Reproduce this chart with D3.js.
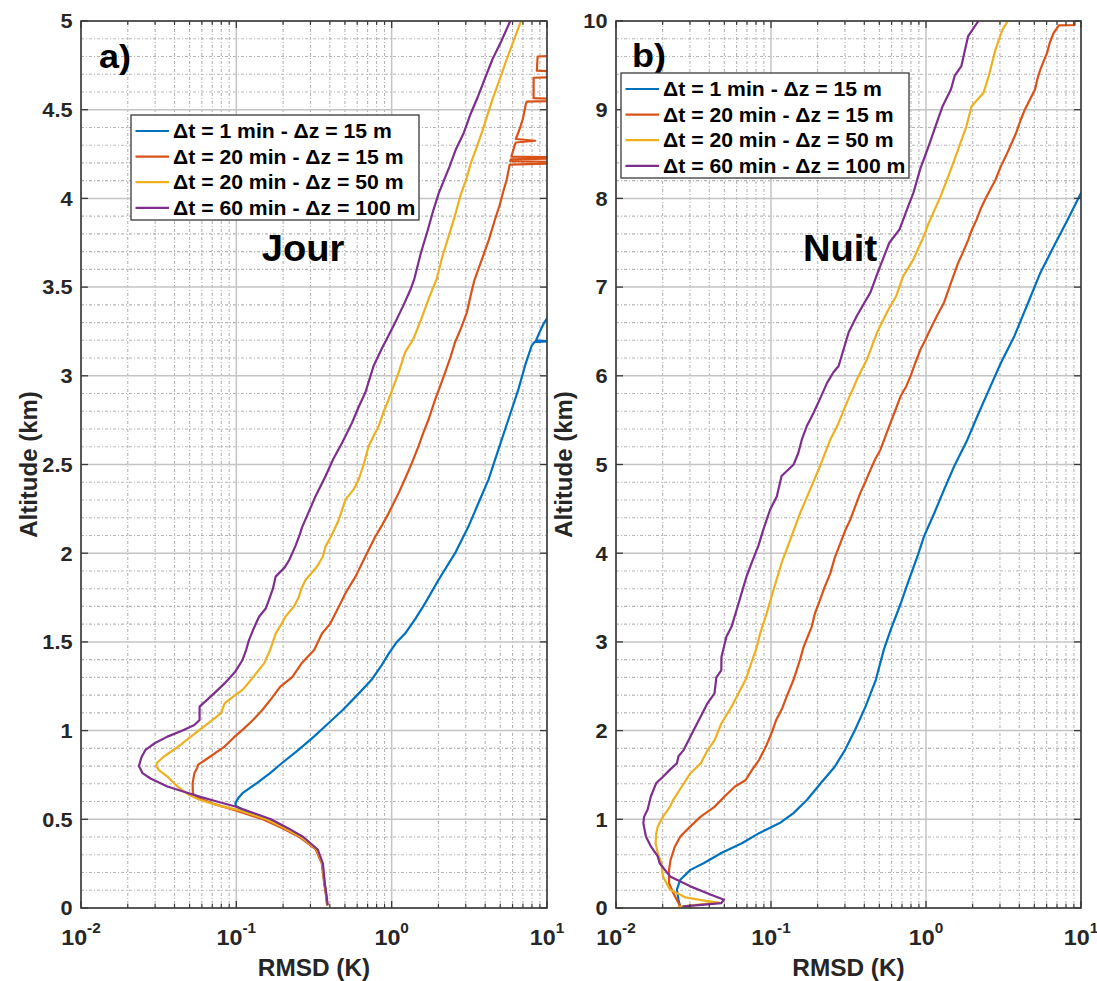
<!DOCTYPE html>
<html>
<head>
<meta charset="utf-8">
<script src="https://cdn.jsdelivr.net/npm/d3@7"></script>
<style>
  body { margin: 0; background: #fff; }
  text { font-family: "Liberation Sans", Arial, sans-serif; font-weight: bold; }
</style>
</head>
<body>
<svg id="chart" width="1097" height="981"></svg>
<script>
// ---------------- DATA ----------------
const seriesLabels = [
  "Δt = 1 min - Δz = 15 m",
  "Δt = 20 min - Δz = 15 m",
  "Δt = 20 min - Δz = 50 m",
  "Δt = 60 min - Δz = 100 m"
];
const seriesColors = ["#0072BD", "#D95319", "#EDB120", "#7E2F8E"];

const xTickExponents = [-2, -1, 0, 1];
const jourYTicks = [0, 0.5, 1, 1.5, 2, 2.5, 3, 3.5, 4, 4.5, 5];
const nuitYTicks = [0, 1, 2, 3, 4, 5, 6, 7, 8, 9, 10];
const panelTags = ["a)", "b)"];
const panelTitles = ["Jour", "Nuit"];
const xAxisTitle = "RMSD (K)";
const yAxisTitle = "Altitude (km)";

// [altitude km, RMSD K]
const jour_dt1_dz15 = [[0.015,0.385],[0.07,0.379],[0.14,0.369],[0.25,0.357],[0.33,0.33],[0.40,0.265],[0.45,0.208],[0.50,0.158],[0.55,0.112],[0.575,0.0995],[0.59,0.0986],[0.62,0.103],[0.647,0.1096],[0.704,0.1355],[0.76,0.165],[0.816,0.196],[0.89,0.25],[0.966,0.316],[1.04,0.39],[1.116,0.484],[1.2,0.6],[1.285,0.74],[1.36,0.85],[1.434,0.957],[1.50,1.08],[1.547,1.22],[1.63,1.42],[1.717,1.64],[1.849,2.0],[2.0,2.56],[2.15,3.12],[2.283,3.62],[2.415,4.2],[2.585,4.87],[2.755,5.65],[2.925,6.55],[3.057,7.22],[3.17,7.97],[3.19,8.3],[3.195,10.5],[3.20,8.5],[3.25,9.0],[3.30,9.6],[3.34,10.3]];
const jour_dt20_dz15 = [[0.015,0.384],[0.07,0.378],[0.14,0.368],[0.25,0.355],[0.33,0.325],[0.40,0.255],[0.45,0.198],[0.50,0.148],[0.55,0.099],[0.59,0.07],[0.62,0.057],[0.645,0.0525],[0.704,0.0523],[0.76,0.0537],[0.79,0.056],[0.807,0.0566],[0.83,0.062],[0.854,0.068],[0.88,0.075],[0.91,0.084],[0.96,0.096],[1.004,0.1096],[1.06,0.128],[1.116,0.147],[1.18,0.168],[1.248,0.192],[1.302,0.229],[1.379,0.263],[1.454,0.317],[1.547,0.356],[1.60,0.40],[1.66,0.434],[1.72,0.47],[1.774,0.504],[1.868,0.585],[1.981,0.677],[2.094,0.785],[2.16,0.87],[2.226,0.957],[2.34,1.11],[2.42,1.22],[2.509,1.35],[2.604,1.49],[2.68,1.60],[2.755,1.73],[2.868,1.91],[2.94,2.05],[3.019,2.21],[3.10,2.38],[3.189,2.56],[3.27,2.80],[3.358,3.05],[3.45,3.22],[3.54,3.41],[3.653,3.8],[3.766,4.22],[3.898,4.69],[3.96,4.95],[4.03,5.2],[4.105,5.5],[4.19,5.75],[4.198,12],[4.205,12],[4.21,5.8],[4.22,5.85],[4.225,12],[4.232,12],[4.236,5.9],[4.30,6.2],[4.315,6.3],[4.325,8.4],[4.335,6.3],[4.38,6.6],[4.45,7.0],[4.53,7.3],[4.545,7.4],[4.55,12],[4.56,12],[4.565,8.2],[4.68,8.2],[4.685,12],[4.715,12],[4.72,8.6],[4.80,8.7],[4.805,12]];
const jour_dt20_dz50 = [[0.015,0.386],[0.07,0.38],[0.14,0.37],[0.25,0.358],[0.33,0.33],[0.40,0.262],[0.45,0.205],[0.50,0.156],[0.55,0.105],[0.58,0.075],[0.61,0.058],[0.64,0.049],[0.666,0.0446],[0.70,0.040],[0.741,0.036],[0.779,0.0316],[0.80,0.0305],[0.82,0.031],[0.854,0.0342],[0.91,0.0423],[0.96,0.05],[1.004,0.058],[1.051,0.068],[1.098,0.0798],[1.154,0.084],[1.19,0.095],[1.229,0.1096],[1.30,0.128],[1.379,0.151],[1.454,0.165],[1.50,0.172],[1.547,0.179],[1.60,0.195],[1.642,0.207],[1.70,0.235],[1.755,0.253],[1.80,0.262],[1.849,0.279],[1.925,0.331],[1.98,0.36],[2.038,0.375],[2.10,0.41],[2.189,0.457],[2.302,0.504],[2.36,0.57],[2.415,0.613],[2.50,0.66],[2.604,0.711],[2.717,0.825],[2.80,0.89],[2.868,0.957],[3.019,1.11],[3.132,1.22],[3.208,1.38],[3.32,1.55],[3.434,1.73],[3.547,1.95],[3.672,2.12],[3.804,2.36],[3.90,2.55],[4.011,2.76],[4.10,3.0],[4.2,3.24],[4.28,3.5],[4.369,3.8],[4.46,4.1],[4.557,4.45],[4.67,4.95],[4.783,5.5],[4.89,6.1],[5.0,6.8],[5.05,7.2]];
const jour_dt60_dz100 = [[0.015,0.388],[0.02,0.387],[0.07,0.381],[0.14,0.371],[0.25,0.361],[0.33,0.334],[0.40,0.27],[0.45,0.215],[0.50,0.167],[0.54,0.125],[0.572,0.0986],[0.60,0.075],[0.628,0.058],[0.655,0.046],[0.685,0.036],[0.73,0.028],[0.76,0.0249],[0.80,0.0236],[0.85,0.0245],[0.891,0.026],[0.93,0.03],[0.966,0.036],[1.00,0.045],[1.032,0.0537],[1.06,0.058],[1.10,0.058],[1.135,0.058],[1.20,0.07],[1.266,0.084],[1.33,0.098],[1.398,0.1096],[1.454,0.1156],[1.51,0.1206],[1.58,0.13],[1.642,0.14],[1.69,0.155],[1.736,0.162],[1.80,0.172],[1.868,0.179],[1.92,0.205],[1.962,0.219],[2.04,0.24],[2.10,0.255],[2.15,0.266],[2.24,0.295],[2.32,0.323],[2.434,0.375],[2.53,0.42],[2.623,0.48],[2.736,0.556],[2.82,0.61],[2.906,0.677],[3.057,0.766],[3.15,0.86],[3.283,1.03],[3.39,1.18],[3.485,1.32],[3.547,1.40],[3.691,1.54],[3.823,1.71],[3.93,1.85],[4.03,2.01],[4.181,2.36],[4.28,2.6],[4.369,2.91],[4.47,3.2],[4.576,3.6],[4.68,4.0],[4.783,4.45],[4.89,5.1],[5.0,5.8],[5.05,6.2]];

const nuit_dt1_dz15 = [[0.01,0.026],[0.094,0.0253],[0.206,0.0247],[0.319,0.026],[0.43,0.0302],[0.507,0.037],[0.62,0.0478],[0.73,0.0649],[0.844,0.0838],[0.957,0.1138],[1.07,0.1396],[1.22,0.171],[1.41,0.21],[1.59,0.257],[1.78,0.30],[2.01,0.349],[2.27,0.407],[2.57,0.474],[2.91,0.534],[3.13,0.59],[3.43,0.686],[3.70,0.776],[3.96,0.879],[4.19,0.971],[4.45,1.13],[4.72,1.31],[4.98,1.52],[5.28,1.85],[5.55,2.15],[5.81,2.5],[6.15,3.05],[6.45,3.72],[6.72,4.31],[6.9,4.75],[7.16,5.46],[7.46,6.68],[7.76,8.2],[8.06,10.0],[8.12,10.5]];
const nuit_dt20_dz15 = [[0.01,0.026],[0.056,0.0253],[0.169,0.0234],[0.28,0.022],[0.43,0.022],[0.544,0.0225],[0.694,0.024],[0.807,0.026],[0.92,0.0302],[1.03,0.0352],[1.14,0.0432],[1.26,0.0503],[1.37,0.0586],[1.44,0.0684],[1.56,0.0757],[1.67,0.0838],[1.82,0.0927],[2.01,0.1028],[2.12,0.108],[2.25,0.118],[2.38,0.126],[2.57,0.1396],[2.8,0.154],[2.94,0.162],[3.17,0.183],[3.32,0.192],[3.47,0.207],[3.62,0.222],[3.77,0.241],[3.95,0.258],[4.11,0.28],[4.25,0.30],[4.38,0.325],[4.53,0.350],[4.68,0.377],[4.80,0.405],[4.94,0.438],[5.06,0.470],[5.17,0.509],[5.32,0.548],[5.47,0.59],[5.62,0.637],[5.77,0.686],[5.88,0.745],[6.0,0.796],[6.15,0.855],[6.3,0.923],[6.42,1.0],[6.53,1.07],[6.68,1.18],[6.83,1.31],[7.05,1.45],[7.27,1.61],[7.40,1.74],[7.53,1.87],[7.65,1.98],[7.76,2.12],[7.88,2.25],[7.99,2.41],[8.10,2.60],[8.21,2.81],[8.35,3.02],[8.48,3.28],[8.60,3.52],[8.74,3.82],[8.87,4.05],[9.0,4.34],[9.12,4.70],[9.23,5.06],[9.34,5.22],[9.45,5.46],[9.55,5.75],[9.64,6.04],[9.76,6.30],[9.87,6.68],[9.95,7.2],[9.955,9.1],[10.1,9.1]];
const nuit_dt20_dz50 = [[0.01,0.025],[0.02,0.027],[0.04,0.035],[0.06,0.046],[0.08,0.038],[0.12,0.028],[0.206,0.0223],[0.356,0.0201],[0.507,0.0196],[0.62,0.0186],[0.73,0.018],[0.844,0.0182],[0.92,0.0186],[1.03,0.0201],[1.14,0.0223],[1.22,0.0234],[1.37,0.0266],[1.52,0.0302],[1.63,0.0352],[1.78,0.039],[1.89,0.0432],[2.08,0.0478],[2.27,0.0557],[2.42,0.0617],[2.57,0.0684],[2.68,0.072],[2.83,0.0769],[2.91,0.080],[3.09,0.085],[3.32,0.0937],[3.58,0.1035],[3.89,0.117],[4.15,0.133],[4.45,0.154],[4.72,0.179],[4.98,0.207],[5.28,0.241],[5.43,0.267],[5.7,0.309],[5.96,0.359],[6.19,0.417],[6.49,0.484],[6.72,0.561],[6.9,0.643],[7.12,0.711],[7.31,0.828],[7.57,0.966],[7.72,1.04],[8.02,1.24],[8.33,1.45],[8.55,1.61],[8.81,1.82],[9.04,1.97],[9.19,2.35],[9.38,2.54],[9.68,2.81],[9.9,3.11],[10.0,3.37]];
const nuit_dt60_dz100 = [[0.01,0.027],[0.019,0.0273],[0.0375,0.037],[0.056,0.0478],[0.094,0.0498],[0.15,0.041],[0.244,0.0302],[0.356,0.0223],[0.507,0.0191],[0.582,0.0186],[0.694,0.0168],[0.807,0.0156],[0.957,0.015],[1.03,0.0152],[1.11,0.016],[1.26,0.0168],[1.41,0.0182],[1.48,0.0201],[1.56,0.0223],[1.63,0.0247],[1.71,0.0253],[1.78,0.0273],[1.89,0.0294],[2.01,0.0318],[2.16,0.0352],[2.31,0.039],[2.42,0.0432],[2.6,0.0444],[2.68,0.0478],[2.83,0.0479],[3.06,0.0516],[3.17,0.0556],[3.36,0.06],[3.55,0.0646],[3.74,0.0696],[3.89,0.075],[4.08,0.0828],[4.26,0.089],[4.49,0.0986],[4.64,0.109],[4.87,0.117],[5.0,0.14],[5.13,0.15],[5.28,0.158],[5.43,0.17],[5.58,0.188],[5.74,0.207],[5.92,0.23],[6.04,0.253],[6.11,0.273],[6.3,0.294],[6.49,0.317],[6.68,0.359],[6.94,0.438],[7.2,0.497],[7.5,0.58],[7.65,0.675],[7.91,0.767],[8.06,0.828],[8.33,0.917],[8.59,1.04],[8.81,1.15],[9.04,1.28],[9.23,1.45],[9.38,1.53],[9.49,1.69],[9.83,1.87],[10.0,2.18]];

// ---------------- LAYOUT ----------------
const svg = d3.select("#chart");
const TEXT_SX = 1.06;   // glyphs in the reference are slightly wide

function stretchedText(g, x, y, str, size, anchor, fill) {
  return g.append("text")
    .attr("transform", `translate(${x},${y}) scale(${TEXT_SX},1)`)
    .attr("text-anchor", anchor)
    .attr("font-size", size)
    .attr("fill", fill || "#262626")
    .text(str);
}

const panels = [
  { x0: 81, x1: 547, y0: 21, y1: 908, yMax: 5, yTicks: jourYTicks, yMinorStep: 0.1,
    series: [jour_dt1_dz15, jour_dt20_dz15, jour_dt20_dz50, jour_dt60_dz100],
    tag: panelTags[0], tagX: 99, tagY: 68, title: panelTitles[0], titleX: 303, titleY: 261,
    legX: 131, legY: 115 },
  { x0: 616, x1: 1081, y0: 21, y1: 908, yMax: 10, yTicks: nuitYTicks, yMinorStep: 0.2,
    series: [nuit_dt1_dz15, nuit_dt20_dz15, nuit_dt20_dz50, nuit_dt60_dz100],
    tag: panelTags[1], tagX: 632, tagY: 67, title: panelTitles[1], titleX: 840, titleY: 261,
    legX: 621, legY: 73 }
];

panels.forEach((p, pi) => {
  const x = d3.scaleLog().domain([0.01, 10]).range([p.x0, p.x1]);
  const y = d3.scaleLinear().domain([0, p.yMax]).range([p.y1, p.y0]);
  const g = svg.append("g");

  g.append("rect").attr("x", p.x0).attr("y", p.y0)
    .attr("width", p.x1 - p.x0).attr("height", p.y1 - p.y0).attr("fill", "#fff");

  // minor grid
  const xMinor = [];
  [-2, -1, 0].forEach(e => { for (let k = 2; k <= 9; k++) xMinor.push(k * Math.pow(10, e)); });
  const yMinor = d3.range(0, p.yMax + 1e-9, p.yMinorStep).filter(v => !p.yTicks.some(t => Math.abs(t - v) < 1e-6));
  const gridG = g.append("g");
  gridG.selectAll(".xm").data(xMinor).join("line")
    .attr("x1", d => x(d)).attr("x2", d => x(d)).attr("y1", p.y0).attr("y2", p.y1)
    .attr("stroke", "#b5b5b5").attr("stroke-width", 1.1).attr("stroke-dasharray", "3,2,1,2");
  gridG.selectAll(".ym").data(yMinor).join("line")
    .attr("x1", p.x0).attr("x2", p.x1).attr("y1", d => y(d)).attr("y2", d => y(d))
    .attr("stroke", "#b5b5b5").attr("stroke-width", 1.1).attr("stroke-dasharray", "3,2,1,2");
  // major grid
  const xMajor = xTickExponents.map(e => Math.pow(10, e));
  gridG.selectAll(".xM").data(xMajor).join("line")
    .attr("x1", d => x(d)).attr("x2", d => x(d)).attr("y1", p.y0).attr("y2", p.y1)
    .attr("stroke", "#c4c4c4").attr("stroke-width", 1.5);
  gridG.selectAll(".yM").data(p.yTicks).join("line")
    .attr("x1", p.x0).attr("x2", p.x1).attr("y1", d => y(d)).attr("y2", d => y(d))
    .attr("stroke", "#c4c4c4").attr("stroke-width", 1.5);

  // clip
  const clipId = "clip" + pi;
  svg.append("clipPath").attr("id", clipId).append("rect")
    .attr("x", p.x0).attr("y", p.y0).attr("width", p.x1 - p.x0).attr("height", p.y1 - p.y0);

  const line = d3.line().x(d => x(d[1])).y(d => y(d[0]));
  const linesG = g.append("g").attr("clip-path", `url(#${clipId})`);
  p.series.forEach((s, i) => {
    linesG.append("path").datum(s).attr("d", line)
      .attr("fill", "none").attr("stroke", seriesColors[i])
      .attr("stroke-width", 2.2).attr("stroke-linejoin", "round");
  });

  // frame + ticks
  const axG = g.append("g").attr("stroke", "#3a3a3a");
  axG.append("rect").attr("x", p.x0).attr("y", p.y0)
    .attr("width", p.x1 - p.x0).attr("height", p.y1 - p.y0)
    .attr("fill", "none").attr("stroke-width", 1.6);
  xMinor.forEach(v => {
    axG.append("line").attr("x1", x(v)).attr("x2", x(v)).attr("y1", p.y1).attr("y2", p.y1 - 4).attr("stroke-width", 1.2);
    axG.append("line").attr("x1", x(v)).attr("x2", x(v)).attr("y1", p.y0).attr("y2", p.y0 + 4).attr("stroke-width", 1.2);
  });
  xMajor.forEach(v => {
    axG.append("line").attr("x1", x(v)).attr("x2", x(v)).attr("y1", p.y1).attr("y2", p.y1 - 7).attr("stroke-width", 1.3);
    axG.append("line").attr("x1", x(v)).attr("x2", x(v)).attr("y1", p.y0).attr("y2", p.y0 + 7).attr("stroke-width", 1.3);
  });
  p.yTicks.forEach(v => {
    axG.append("line").attr("x1", p.x0).attr("x2", p.x0 + 7).attr("y1", y(v)).attr("y2", y(v)).attr("stroke-width", 1.3);
    axG.append("line").attr("x1", p.x1).attr("x2", p.x1 - 7).attr("y1", y(v)).attr("y2", y(v)).attr("stroke-width", 1.3);
  });

  // y tick labels
  p.yTicks.forEach(v => {
    stretchedText(g, p.x0 - 8.5, y(v) + 7.3, String(v), 20.5, "end");
  });
  // x tick labels 10^e
  xTickExponents.forEach(e => {
    const t = g.append("text")
      .attr("transform", `translate(${x(Math.pow(10, e))},945) scale(${TEXT_SX},1)`)
      .attr("text-anchor", "middle").attr("fill", "#262626");
    t.append("tspan").attr("font-size", 22).text("10");
    t.append("tspan").attr("font-size", 14.5).attr("dy", -12).text(String(e));
  });
  // axis titles
  stretchedText(g, (p.x0 + p.x1) / 2, 976, xAxisTitle, 23, "middle");
  g.append("text")
    .attr("transform", `translate(${p.x0 - 44.5},${(p.y0 + p.y1) / 2}) rotate(-90)`)
    .attr("text-anchor", "middle").attr("font-size", 24).attr("fill", "#262626")
    .text(yAxisTitle);

  // panel tag and title
  stretchedText(g, p.tagX, p.tagY, p.tag, 34, "start", "#000");
  stretchedText(g, p.titleX, p.titleY, p.title, 36, "middle", "#000");

  // legend
  const lg = g.append("g");
  lg.append("rect").attr("x", p.legX).attr("y", p.legY).attr("width", 288).attr("height", 105)
    .attr("fill", "#fff").attr("stroke", "#3a3a3a").attr("stroke-width", 1.3);
  seriesLabels.forEach((lab, i) => {
    const cy = p.legY + 16 + i * 25.6;
    lg.append("line").attr("x1", p.legX + 4.5).attr("x2", p.legX + 38)
      .attr("y1", cy).attr("y2", cy).attr("stroke", seriesColors[i]).attr("stroke-width", 2.2);
    stretchedText(lg, p.legX + 42, cy + 7, lab, 20, "start", "#000");
  });
});
</script>
</body>
</html>
